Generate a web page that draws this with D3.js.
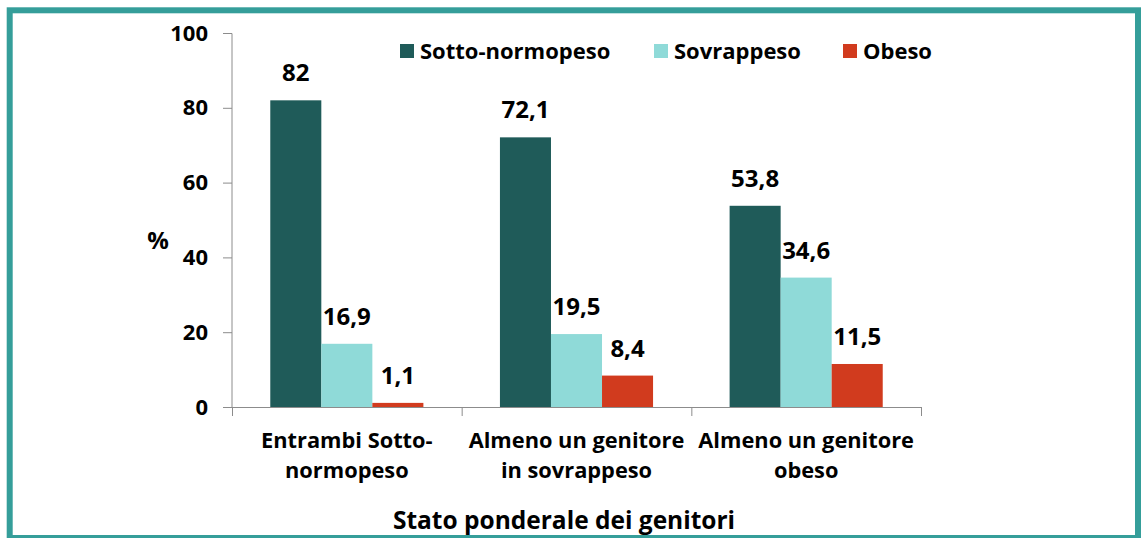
<!DOCTYPE html>
<html><head><meta charset="utf-8">
<script src="https://cdn.jsdelivr.net/npm/d3@7"></script>
<style>body{margin:0;background:#fff}svg{display:block}text{font-family:"Open Sans",Lato,sans-serif;font-weight:bold;fill:#000}</style>
</head><body><svg id="c" width="1141" height="538"></svg>
<script>
const categories = [["Entrambi Sotto-","normopeso"],["Almeno un genitore","in sovrappeso"],["Almeno un genitore","obeso"]];
const series = ["Sotto-normopeso","Sovrappeso","Obeso"];
const values = [[82,16.9,1.1],[72.1,19.5,8.4],[53.8,34.6,11.5]];
const yTicks = [0,20,40,60,80,100];
const colors = ["#1f5b59","#8fdad8","#d13b1e"];

const svg = d3.select("#c");
svg.append("rect").attr("x",9.7).attr("y",10.3).attr("width",1128.3).attr("height",527.7)
  .attr("fill","none").attr("stroke","#359e9a").attr("stroke-width",6);

const x0 = d3.scaleBand().domain(d3.range(categories.length)).range([232,921]).paddingInner(0).paddingOuter(0);
const x1 = d3.scaleBand().domain(d3.range(series.length)).range([0,x0.bandwidth()]).paddingInner(0).paddingOuter(0.75);
const y = d3.scaleLinear().domain([0,100]).range([407,33]);

// y axis
const ya = svg.append("g").attr("transform","translate(232,0)")
  .call(d3.axisLeft(y).tickValues(yTicks).tickSize(9).tickPadding(15));
ya.select(".domain").attr("stroke","#8c8c8c").attr("d","M-9,33.5H0V407.5");
ya.selectAll(".tick line").attr("stroke","#8c8c8c");
ya.selectAll(".tick text").attr("font-size",22).attr("font-family","Open Sans").attr("font-weight","bold").attr("fill","#000");
ya.selectAll(".tick").filter(d=>d===100).select("line").remove();

// x axis
const xa = svg.append("g").attr("transform","translate(0,407)");
xa.append("line").attr("x1",232).attr("x2",921).attr("y1",0.5).attr("y2",0.5).attr("stroke","#8c8c8c");
[0,1,2,3].forEach(i=>{
  const xx = i<3 ? x0(i) : x0(2)+x0.bandwidth();
  xa.append("line").attr("x1",xx+0.5).attr("x2",xx+0.5).attr("y1",0).attr("y2",9).attr("stroke","#8c8c8c");
});

// bars
const g = svg.append("g").selectAll("g").data(values).join("g")
  .attr("transform",(d,i)=>`translate(${x0(i)},0)`);
g.selectAll("rect").data(d=>d).join("rect")
  .attr("x",(d,j)=>x1(j)).attr("width",x1.bandwidth())
  .attr("y",d=>y(d)).attr("height",d=>y(0)-y(d)).attr("fill",(d,j)=>colors[j]);
g.selectAll("text").data(d=>d).join("text")
  .attr("x",(d,j)=>x1(j)+x1.bandwidth()/2).attr("y",d=>y(d)-19)
  .attr("text-anchor","middle").attr("font-size",24)
  .text(d=>String(d).replace(".",","));

// category labels
categories.forEach((lines,i)=>{
  const t = svg.append("text").attr("text-anchor","middle").attr("font-size",21.8)
    .attr("x",x0(i)+x0.bandwidth()/2);
  lines.forEach((l,k)=>t.append("tspan").attr("x",x0(i)+x0.bandwidth()/2).attr("y",448+k*30).text(l));
});

// axis titles
svg.append("text").attr("x",158).attr("y",249).attr("text-anchor","middle").attr("font-size",24).text("%");
svg.append("text").attr("x",564).attr("y",529).attr("text-anchor","middle").attr("font-size",24.5).text("Stato ponderale dei genitori");

// legend
const legX = [400,654,843];
series.forEach((s,j)=>{
  svg.append("rect").attr("x",legX[j]).attr("y",44).attr("width",14).attr("height",14).attr("fill",colors[j]);
  svg.append("text").attr("x",legX[j]+20).attr("y",59).attr("font-size",22).text(s);
});
</script></body></html>
